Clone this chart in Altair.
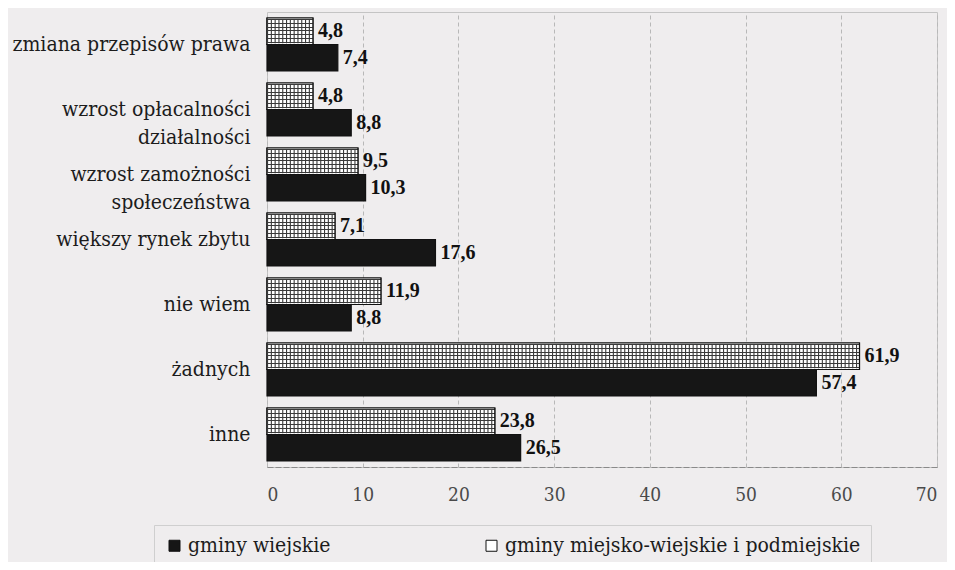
import altair as alt
import pandas as pd

categories = [
    "zmiana przepisów prawa",
    "wzrost opłacalności|działalności",
    "wzrost zamożności|społeczeństwa",
    "większy rynek zbytu",
    "nie wiem",
    "żadnych",
    "inne",
]
series_names = ["gminy wiejskie", "gminy miejsko-wiejskie i podmiejskie"]
wiejskie = [7.4, 8.8, 10.3, 17.6, 8.8, 57.4, 26.5]
miejskie = [4.8, 4.8, 9.5, 7.1, 11.9, 61.9, 23.8]
x_ticks = [0, 10, 20, 30, 40, 50, 60, 70]

rows = []
for c, w, m in zip(categories, wiejskie, miejskie):
    rows.append({"kat": c, "seria": series_names[0], "v": w})
    rows.append({"kat": c, "seria": series_names[1], "v": m})
df = pd.DataFrame(rows)

FONT = "DejaVu Serif Condensed, DejaVu Serif, serif"
BFONT = "Liberation Serif"
BG = "#efedee"

y_enc = alt.Y("kat:N", sort=categories, title=None,
              scale=alt.Scale(paddingInner=0.185, paddingOuter=0.0925),
              axis=alt.Axis(labelExpr="split(datum.label, '|')", ticks=False,
                            domain=False, labelFontSize=21, labelColor="#1c1c1c",
                            labelPadding=17, labelLineHeight=28, labelFont=FONT,
                            labelLimit=400))
yoff = alt.YOffset("seria:N", sort=[series_names[1], series_names[0]],
                   scale=alt.Scale(paddingInner=0, paddingOuter=0))
x_enc = alt.X("v:Q", title=None,
              scale=alt.Scale(domain=[0, 70], nice=False),
              axis=alt.Axis(values=x_ticks, ticks=False, labelFontSize=19,
                            labelColor="#4a4a4a", labelPadding=18, labelFont=FONT,
                            grid=True, gridColor="#b8b8b8", gridDash=[4, 3],
                            domainColor="#8a8a8a", domainDash=[6, 2]))

base = alt.Chart(df).encode(y=y_enc, yOffset=yoff)

bars = base.mark_bar(stroke="#111111", strokeWidth=1.2).encode(
    x=x_enc,
    color=alt.Color("seria:N",
                    scale=alt.Scale(domain=series_names, range=["#161616", "#ffffff"]),
                    legend=alt.Legend(
                        title=None, orient="none", legendX=-113, legendY=513,
                        direction="horizontal", columns=2, columnPadding=150,
                        symbolType="square", symbolSize=121, symbolStrokeColor="#111111",
                        symbolStrokeWidth=1, labelFontSize=21, labelFont=FONT,
                        labelColor="#1c1c1c", labelOffset=3, padding=10,
                        labelLimit=0,
                        strokeColor="#cfcfcf", fillColor=BG)),
)

n_lines = 7
stops = []
for i in range(n_lines):
    a = i / n_lines
    b = (i + 0.3) / n_lines
    stops += [alt.GradientStop(color="#ffffff", offset=a),
              alt.GradientStop(color="#ffffff", offset=b),
              alt.GradientStop(color="#3a3a3a", offset=b),
              alt.GradientStop(color="#3a3a3a", offset=(i + 0.55) / n_lines),
              alt.GradientStop(color="#ffffff", offset=(i + 0.55) / n_lines)]
stops.append(alt.GradientStop(color="#ffffff", offset=1))

hatch_h = base.transform_filter(alt.datum.seria == series_names[1]).mark_bar(
    color=alt.Gradient(gradient="linear", stops=stops, x1=0, x2=0, y1=0, y2=1),
    stroke="#111111", strokeWidth=1.2,
).encode(x="v:Q")

hatch_v = base.transform_filter(alt.datum.seria == series_names[1]).mark_rule(
    color="#3a3a3a", strokeWidth=24, strokeDash=[1.1, 2.7], strokeCap="butt",
).encode(x=alt.X("zero:Q"), x2="v:Q").transform_calculate(zero="0")

labels = base.mark_text(align="left", baseline="middle", dx=5, fontSize=20,
                        fontWeight="bold", font=BFONT, color="#111111").encode(
    x="v:Q", text="lab:N"
).transform_calculate(lab="replace(format(datum.v, '.1f'), '.', ',')")

chart = alt.layer(bars, hatch_h, hatch_v, labels).properties(
    width=670, height=455,
    autosize=alt.AutoSizeParams(type="none"),
    padding={"left": 259, "top": 4, "right": 10, "bottom": 95},
    background=BG,
).configure_view(stroke="#c4c4c4", strokeWidth=1)

chart.save("out.html", embed_options={"renderer": "svg", "actions": False})
